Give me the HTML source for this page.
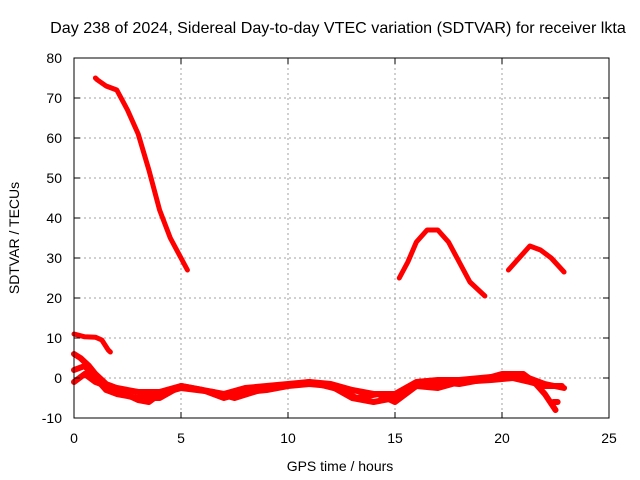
<!DOCTYPE html>
<html><head><meta charset="utf-8"><style>
body{margin:0;background:#fff}
svg{display:block;font-family:"Liberation Sans",sans-serif;font-size:14px}
</style></head><body>
<svg id="c" width="640" height="480">
<text x="338" y="33" text-anchor="middle" style="font-size:16.1px">Day 238 of 2024, Sidereal Day-to-day VTEC variation (SDTVAR) for receiver lkta</text>
<g id="grid"></g><g id="series"></g><g id="axes"></g>
<text x="340" y="471" text-anchor="middle">GPS time / hours</text>
<text transform="translate(19,238) rotate(-90)" text-anchor="middle">SDTVAR / TECUs</text>
</svg>
<script>
const xTicks=[0,5,10,15,20,25];
const yTicks=[-10,0,10,20,30,40,50,60,70,80];
const seriesA=[[1,75],[1.1,74.5],[1.5,73],[2,72],[2.5,67],[3,61],[3.5,52],[4,42],[4.5,35],[5,30],[5.3,27]];
const seriesB=[[15.2,25],[15.6,29],[16,34],[16.5,37],[17,37],[17.5,34],[18,29],[18.5,24],[19.2,20.5]];
const seriesC=[[20.3,27],[20.8,30],[21.3,33],[21.8,32],[22.3,30],[22.9,26.5]];
const seriesD=[[0,11],[0.5,10.3],[1,10.2],[1.3,9.5],[1.6,7],[1.7,6.5]];
const seriesE=[[0,6],[0.3,5],[0.7,3],[1,1],[1.5,-1.5],[2,-2.5],[3,-3.5],[4,-3.5],[5,-2],[6,-3],[7,-4],[8,-2.5],[9,-2],[10,-1.5],[11,-1],[12,-1.5],[13,-3],[14,-4],[15,-4],[16,-1],[17,-0.5],[18,-0.5],[19,0],[20,0.5],[21,0.5],[22,-1.5],[22.9,-2.5]];
const seriesF=[[0,2],[0.5,3],[1,0],[1.5,-3],[2,-4],[3,-5],[4,-5],[5,-2],[6,-3],[7,-5],[8,-3.5],[9,-3],[10,-2],[11,-1.5],[12,-2],[13,-5],[14,-6],[15,-5],[16,-2],[17,-1],[18,-1.5],[19,-0.5],[20,1],[21,1],[21.5,-1],[22,-4],[22.5,-8]];
const seriesG=[[0,-1],[0.5,1],[1,-1],[2,-3],[3,-5.5],[3.5,-6],[4,-4],[5,-2.5],[6.5,-3.5],[7.5,-5],[9,-2.5],[11,-1],[12.5,-3],[13.2,-5],[14.2,-4],[15,-6],[16,-2],[17,-2.5],[18,-1],[19.5,-0.5],[20.5,0],[21.3,-1],[22,-2],[22.8,-2]];
const seriesH=[[22.4,-6],[22.6,-6]];
const allSeries=[seriesA,seriesB,seriesC,seriesD,seriesE,seriesF,seriesG,seriesH];
const L=74,R=609,T=58,B=418;
const sx=v=>L+(v-0)/25*(R-L);
const sy=v=>B-(v+10)/90*(B-T);
const NS='http://www.w3.org/2000/svg';
function mk(tag,attrs,parent){const e=document.createElementNS(NS,tag);for(const k in attrs)e.setAttribute(k,attrs[k]);document.getElementById(parent).appendChild(e);return e;}
xTicks.forEach(t=>{
 const g=mk('line',{x1:sx(t),x2:sx(t),y1:T,y2:B,stroke:'#a0a0a0','stroke-dasharray':'2,3'},'grid');
 
 
 const tk=mk('text',{x:sx(t),y:B+25,'text-anchor':'middle'},'axes');tk.textContent=t;
 
 
 mk('line',{x1:sx(t),x2:sx(t),y1:B,y2:B-6,stroke:'#000'},'axes');
 mk('line',{x1:sx(t),x2:sx(t),y1:T,y2:T+6,stroke:'#000'},'axes');
});
yTicks.forEach(t=>{
 const g=mk('line',{x1:L,x2:R,y1:sy(t),y2:sy(t),stroke:'#a0a0a0','stroke-dasharray':'2,3'},'grid');
 
 
 const tk=mk('text',{x:L-12,y:sy(t)+5,'text-anchor':'end'},'axes');tk.textContent=t;
 
 
 mk('line',{x1:L,x2:L+6,y1:sy(t),y2:sy(t),stroke:'#000'},'axes');
 mk('line',{x1:R,x2:R-6,y1:sy(t),y2:sy(t),stroke:'#000'},'axes');
});
const fr=mk('rect',{x:L,y:T,width:R-L,height:B-T,fill:'none',stroke:'#000'},'axes');


allSeries.forEach((s,i)=>{
 const p=mk('polyline',{points:s.map(d=>sx(d[0])+','+sy(d[1])).join(' '),fill:'none',stroke:'#ff0000','stroke-width':i>=4?6:5,'stroke-linejoin':'round','stroke-linecap':'round'},'series');
 
 
});
</script>
</body></html>
